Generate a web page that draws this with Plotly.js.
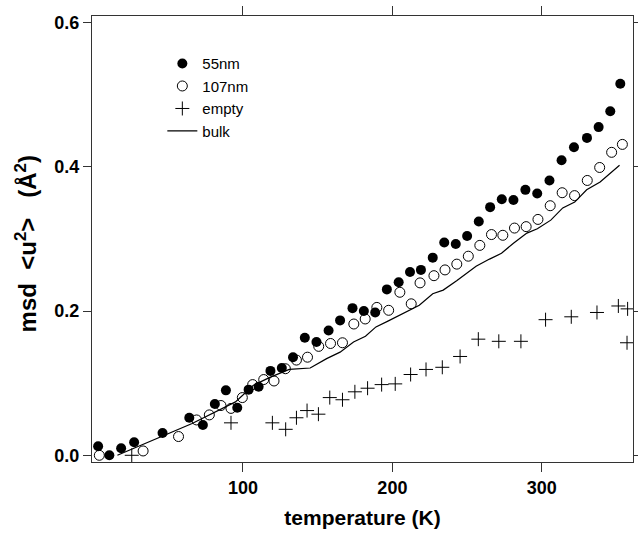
<!DOCTYPE html>
<html>
<head>
<meta charset="utf-8">
<script src="https://cdn.plot.ly/plotly-3.0.1.min.js"></script>
<style>html,body{margin:0;padding:0;background:#fff;}#chart{width:638px;height:534px;}</style>
</head>
<body>
<div id="chart"></div>
<script>
// 55nm (filled circles)
var t55 = [3.1, 10.6, 18.5, 27.2, 46.2, 64.1, 73.2, 81.2, 88.6, 96.2, 103.8, 110.5, 118.4, 126, 133.5, 141.4, 149.2, 157.3, 165, 173.3, 180.9, 188.5, 196.3, 204.2, 211.8, 219.1, 227, 234.7, 242.4, 250, 257.8, 265.4, 273.2, 281, 289, 296.9, 305.1, 313.2, 321.5, 330.2, 338, 345.8, 352.5];
var y55 = [0.0125, 0.0, 0.0097, 0.018, 0.031, 0.052, 0.042, 0.071, 0.090, 0.066, 0.091, 0.095, 0.117, 0.121, 0.136, 0.163, 0.157, 0.173, 0.187, 0.204, 0.200, 0.198, 0.230, 0.240, 0.254, 0.257, 0.274, 0.295, 0.293, 0.304, 0.324, 0.344, 0.355, 0.354, 0.368, 0.363, 0.381, 0.409, 0.427, 0.440, 0.455, 0.477, 0.515];
// 107nm (open circles)
var t107 = [3.9, 33.2, 56.9, 69, 77.5, 85.3, 92, 99.6, 106.5, 113.9, 120.8, 128.4, 135.8, 143.2, 150.7, 158.6, 166.6, 174.2, 181.8, 189.6, 197.5, 205, 212.6, 218.5, 227.8, 235.2, 243.1, 250.8, 258.5, 266.3, 273.9, 281.7, 289.5, 297.4, 305.6, 313.6, 321.9, 330.4, 338.7, 346.7, 353.9];
var y107 = [0.0, 0.006, 0.026, 0.049, 0.056, 0.069, 0.065, 0.080, 0.098, 0.105, 0.103, 0.120, 0.132, 0.136, 0.151, 0.155, 0.156, 0.182, 0.189, 0.205, 0.201, 0.226, 0.210, 0.239, 0.249, 0.257, 0.265, 0.276, 0.291, 0.306, 0.305, 0.315, 0.317, 0.327, 0.346, 0.364, 0.360, 0.381, 0.399, 0.420, 0.431];
// empty (crosses)
var tEmpty = [25.6, 92, 119.7, 128.6, 135.8, 142.9, 150.5, 158.1, 166.6, 174.9, 183.4, 192.8, 201.9, 212.2, 222.5, 233.4, 245.3, 257.5, 271.2, 286, 302.5, 319.7, 336.9, 351.2, 357.4, 357];
var yEmpty = [0.0, 0.045, 0.045, 0.036, 0.052, 0.062, 0.057, 0.080, 0.077, 0.088, 0.093, 0.098, 0.099, 0.112, 0.119, 0.122, 0.137, 0.161, 0.158, 0.158, 0.188, 0.192, 0.198, 0.207, 0.203, 0.156];
// bulk (line)
var tBulk = [16, 40, 66, 95, 107, 118, 131, 145, 156, 165, 174, 182, 189, 197, 205, 218, 227, 234, 243, 256, 265, 273, 281, 290, 297, 306, 314, 322, 330, 339, 352];
var yBulk = [0.0, 0.021, 0.044, 0.074, 0.097, 0.108, 0.119, 0.121, 0.134, 0.143, 0.157, 0.165, 0.178, 0.186, 0.194, 0.208, 0.224, 0.229, 0.242, 0.262, 0.272, 0.280, 0.294, 0.308, 0.314, 0.326, 0.343, 0.351, 0.368, 0.379, 0.402];

var xTicks = [100, 200, 300];
var yTicks = [0.0, 0.2, 0.4, 0.6];

var FONT = 'Liberation Sans, Arial, sans-serif';

var traces = [
  {x: t55, y: y55, name: '55nm', mode: 'markers', type: 'scatter',
   marker: {symbol: 'circle', size: 10, color: '#000'}},
  {x: t107, y: y107, name: '107nm', mode: 'markers', type: 'scatter',
   marker: {symbol: 'circle-open', size: 10, color: '#000', line: {width: 1, color: '#000'}}},
  {x: tEmpty, y: yEmpty, name: 'empty', mode: 'markers', type: 'scatter',
   marker: {symbol: 'cross-thin-open', size: 10, color: '#000', line: {width: 1, color: '#000'}}},
  {x: tBulk, y: yBulk, name: 'bulk', mode: 'lines', type: 'scatter',
   line: {color: '#000', width: 1.2}}
];

var layout = {
  width: 638, height: 534,
  margin: {l: 92, r: 5, t: 16, b: 72},
  paper_bgcolor: '#fff', plot_bgcolor: '#fff',
  font: {family: FONT, color: '#000'},
  showlegend: true,
  legend: {x: 0.13, y: 0.93, xanchor: 'left', yanchor: 'top', bgcolor: 'rgba(0,0,0,0)',
           font: {family: FONT, size: 15, color: '#000'}},
  xaxis: {
    range: [-1, 361], tickvals: xTicks, ticktext: xTicks.map(String),
    showline: true, mirror: 'ticks', linecolor: '#333', linewidth: 1,
    ticks: 'outside', ticklen: 9, tickwidth: 1, tickcolor: '#333',
    showgrid: false, zeroline: false,
    tickfont: {family: FONT, size: 18, weight: 'bold'},
    title: {text: '<b>temperature (K)</b>', font: {family: FONT, size: 21}, standoff: 13}
  },
  yaxis: {
    range: [-0.0093, 0.609], tickvals: yTicks, ticktext: yTicks.map(function(v){return v.toFixed(1);}),
    showline: true, mirror: 'ticks', linecolor: '#333', linewidth: 1,
    ticks: 'outside', ticklen: 8, tickwidth: 1, tickcolor: '#333',
    showgrid: false, zeroline: false,
    tickfont: {family: FONT, size: 18, weight: 'bold'}
  },
  annotations: [{
    text: '<b>msd&nbsp;&nbsp;&lt;u<sup>2</sup>&gt;&nbsp;&nbsp;&nbsp;(Å<sup>2</sup>)</b>',
    xref: 'paper', yref: 'paper', x: -0.122, y: 0.49,
    xanchor: 'center', yanchor: 'middle', textangle: -90, showarrow: false,
    font: {family: FONT, size: 24, color: '#000'}
  }]
};

Plotly.newPlot('chart', traces, layout, {displayModeBar: false, staticPlot: true});
</script>
</body>
</html>
